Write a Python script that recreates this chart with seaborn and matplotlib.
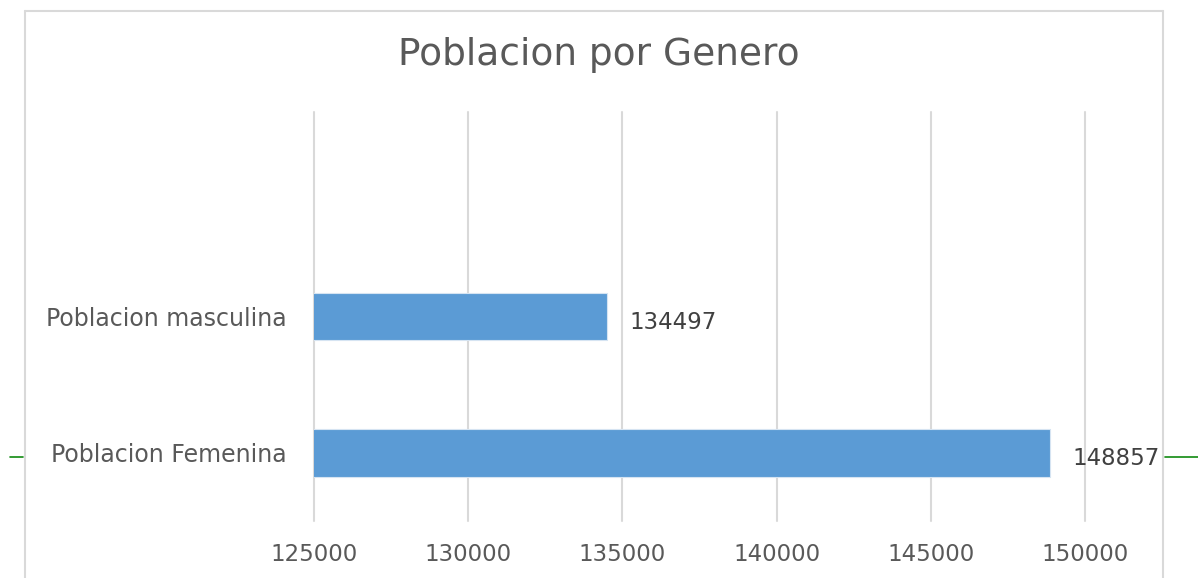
import matplotlib
matplotlib.use("Agg")
import matplotlib.pyplot as plt
import seaborn as sns
import pandas as pd
from matplotlib.lines import Line2D

categories = ["Poblacion masculina", "Poblacion Femenina"]
values = [134497, 148857]
x_ticks = [125000, 130000, 135000, 140000, 145000, 150000]
title = "Poblacion por Genero"

sns.set_theme(style="white")
plt.rcParams['font.family'] = ['DejaVu Sans']

W, H = 1198, 578
fig = plt.figure(figsize=(W / 100, H / 100), dpi=100)
ax = fig.add_axes([314 / W, 1 - 521 / H, (1085 - 314) / W, (521 - 112) / H])

df = pd.DataFrame({"cat": categories, "val": values})
sns.barplot(data=df, y="cat", x="val", order=categories, orient="h",
            color="#5B9BD5", saturation=1, width=0.35, ax=ax,
            edgecolor="#D6E4F2", linewidth=0.8, zorder=3)

ax.set_xlim(x_ticks[0], x_ticks[-1])
ax.set_ylim(1.5, -1.5)
ax.set_xticks(x_ticks)
ax.set_xticklabels([str(t) for t in x_ticks])
ax.set_xlabel("")
ax.set_ylabel("")
for s in ax.spines.values():
    s.set_visible(False)
ax.grid(axis="x", color="#D9D9D9", linewidth=1.5, zorder=0)
ax.grid(axis="y", visible=False)
for gl in ax.get_xgridlines():
    gl.set_clip_on(False)
ax.tick_params(axis="x", length=0, pad=16, labelsize=16.5, labelcolor="#595959")
ax.tick_params(axis="y", length=0, pad=20, labelsize=17, labelcolor="#595959")

for c in ax.containers:
    anns = ax.bar_label(c, labels=[str(v) for v in values], padding=16,
                        fontsize=16.5, color="#404040")
    for a in anns:
        a.xyann = (16, -4)

fig.text(0.5, 1 - 55 / H, title, ha="center", va="center",
         fontsize=27, color="#595959")

# chart frame
fig.add_artist(Line2D([25 / W, 25 / W], [0, 1 - 11 / H], transform=fig.transFigure,
                      color="#D9D9D9", linewidth=1.5))
fig.add_artist(Line2D([1163 / W, 1163 / W], [0, 1 - 11 / H], transform=fig.transFigure,
                      color="#D9D9D9", linewidth=1.5))
fig.add_artist(Line2D([25 / W, 1163 / W], [1 - 11 / H, 1 - 11 / H], transform=fig.transFigure,
                      color="#D9D9D9", linewidth=1.5))
# green markers
fig.add_artist(Line2D([10 / W, 23 / W], [1 - 457 / H, 1 - 457 / H], transform=fig.transFigure,
                      color="#108A10", linewidth=1.2))
fig.add_artist(Line2D([1165 / W, 1.0], [1 - 457 / H, 1 - 457 / H], transform=fig.transFigure,
                      color="#108A10", linewidth=1.2))

fig.savefig("out.png", dpi=100, facecolor="white")
